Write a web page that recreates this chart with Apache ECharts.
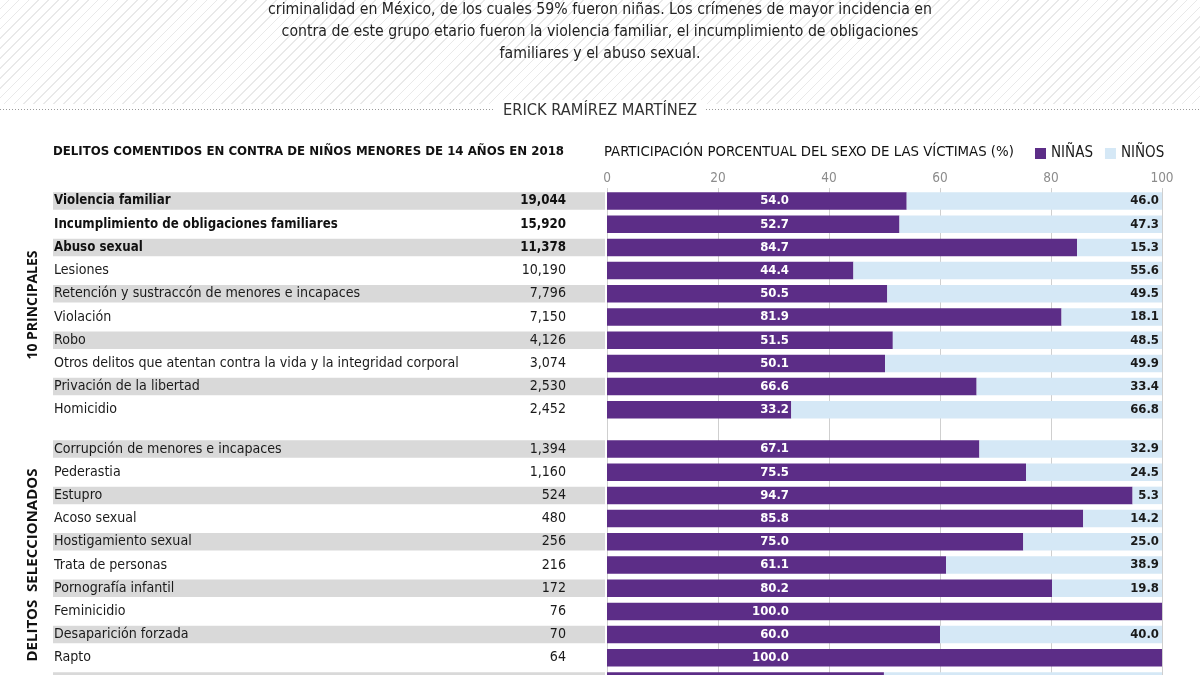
<!DOCTYPE html>
<html><head><meta charset="utf-8">
<script src="https://cdn.jsdelivr.net/npm/echarts@6/dist/echarts.min.js"></script>
<style>
html,body{margin:0;padding:0;background:#fff;}
#wrap{position:relative;width:1200px;height:675px;overflow:hidden;background:#fff;}
#hatch{position:absolute;left:0;top:0;width:1200px;height:104px;background:repeating-linear-gradient(135deg,#fff 0px,#fff 5.8px,#e9e9e9 5.8px,#e9e9e9 7px);}
#chart{position:absolute;left:0;top:0;width:1200px;height:700px;}
</style></head><body>
<div id="wrap"><div id="hatch"></div><div id="chart"></div></div>
<script>
const introLines = [
  'criminalidad en México, de los cuales 59% fueron niñas. Los crímenes de mayor incidencia en',
  'contra de este grupo etario fueron la violencia familiar, el incumplimiento de obligaciones',
  'familiares y el abuso sexual.'
];
const byline = 'ERICK RAMÍREZ MARTÍNEZ';
const leftTitle = 'DELITOS COMENTIDOS EN CONTRA DE NIÑOS MENORES DE 14 AÑOS EN 2018';
const rightTitle = 'PARTICIPACIÓN PORCENTUAL DEL SEXO DE LAS VÍCTIMAS (%)';
const seriesNames = ['NIÑAS', 'NIÑOS'];
const groupTitles = ['10 PRINCIPALES', 'DELITOS  SELECCIONADOS'];
const axisTicks = [0, 20, 40, 60, 80, 100];

const top10Names = ['Violencia familiar', 'Incumplimiento de obligaciones familiares', 'Abuso sexual', 'Lesiones',
  'Retención y sustraccón de menores e incapaces', 'Violación', 'Robo',
  'Otros delitos que atentan contra la vida y la integridad corporal', 'Privación de la libertad', 'Homicidio'];
const top10Counts = [19044, 15920, 11378, 10190, 7796, 7150, 4126, 3074, 2530, 2452];
const top10Ninas = [54.0, 52.7, 84.7, 44.4, 50.5, 81.9, 51.5, 50.1, 66.6, 33.2];
const top10Ninos = [46.0, 47.3, 15.3, 55.6, 49.5, 18.1, 48.5, 49.9, 33.4, 66.8];

const selNames = ['Corrupción de menores e incapaces', 'Pederastia', 'Estupro', 'Acoso sexual', 'Hostigamiento sexual',
  'Trata de personas', 'Pornografía infantil', 'Feminicidio', 'Desaparición forzada', 'Rapto', ''];
const selCounts = [1394, 1160, 524, 480, 256, 216, 172, 76, 70, 64, null];
const selNinas = [67.1, 75.5, 94.7, 85.8, 75.0, 61.1, 80.2, 100.0, 60.0, 100.0, 49.9];
const selNinos = [32.9, 24.5, 5.3, 14.2, 25.0, 38.9, 19.8, 0.0, 40.0, 0.0, 50.1];

const F = '"DejaVu Sans Condensed","Liberation Sans Narrow",sans-serif';
const PURPLE = '#5c2d87';
const BLUE = '#d5e8f6';
const STRIPE = '#d9d9d9';
const BW = 17.5;
const FS = 14.1;   // table text
const FSB = 13.2;  // bold table text

const chart = echarts.init(document.getElementById('chart'), null, {renderer: 'canvas'});

function fmtCount(c) { return c == null ? '' : c.toLocaleString('en-US'); }

function leftAxis(gi, names) {
  return {
    type: 'category', gridIndex: gi, data: names, inverse: true, z: 5,
    axisLine: {show: false}, axisTick: {show: false}, splitLine: {show: false},
    axisLabel: {
      inside: true, margin: 1, align: 'left', fontFamily: F, fontSize: FS, color: '#1a1a1a',
      formatter: (v, i) => (gi === 0 && i < 3) ? '{b|' + v + '}' : v,
      rich: {b: {fontFamily: F, fontSize: FSB, fontWeight: 'bold', color: '#111'}}
    }
  };
}

function stripeSeries(gi, counts, boldTop) {
  return {
    type: 'bar', name: 'stripe', xAxisIndex: gi, yAxisIndex: gi, silent: true, barWidth: BW,
    data: counts.map(() => 1),
    itemStyle: {color: p => p.dataIndex % 2 === 0 ? STRIPE : 'rgba(0,0,0,0)'},
    label: {
      show: true, position: 'insideRight', distance: 39, fontFamily: F, fontSize: FS, color: '#1a1a1a',
      formatter: p => {
        const s = fmtCount(counts[p.dataIndex]);
        if (!s) return '';
        return (boldTop && p.dataIndex < 3) ? '{b|' + s + '}' : s;
      },
      rich: {b: {fontFamily: F, fontSize: FSB, fontWeight: 'bold', color: '#111'}}
    }
  };
}

function pctSeries(gi, ninas, ninos) {
  return [{
    type: 'bar', name: seriesNames[0], stack: 's' + gi, xAxisIndex: gi, yAxisIndex: gi, barWidth: BW,
    data: ninas, itemStyle: {color: PURPLE},
    label: {
      show: true, position: [182, '50%'], align: 'right', verticalAlign: 'middle',
      color: '#fff', fontFamily: F, fontSize: 13, fontWeight: 'bold',
      formatter: p => p.value.toFixed(1)
    }
  }, {
    type: 'bar', name: seriesNames[1], stack: 's' + gi, xAxisIndex: gi, yAxisIndex: gi, barWidth: BW,
    data: ninos, itemStyle: {color: BLUE},
    label: {
      show: true, position: 'insideRight', distance: 3,
      color: '#1a1a1a', fontFamily: F, fontSize: 13, fontWeight: 'bold',
      formatter: p => p.value > 0 ? p.value.toFixed(1) : ''
    }
  }];
}

const hidX = (gi, max) => ({type: 'value', gridIndex: gi, min: 0, max: max, show: false});
const hidY = (gi, names) => ({type: 'category', gridIndex: gi, data: names, inverse: true, show: false});

const option = {
  backgroundColor: 'transparent',
  animation: false,
  legend: {
    data: seriesNames, left: 1030, top: 141, icon: 'rect', itemWidth: 11, itemHeight: 11, itemGap: 12,
    textStyle: {fontFamily: F, fontSize: 15, color: '#1a1a1a'}, selectedMode: false
  },
  grid: [
    {left: 53, top: 189.4, width: 552, height: 232},
    {left: 607, top: 189.4, width: 555, height: 232},
    {left: 53, top: 437.4, width: 552, height: 255.2},
    {left: 607, top: 437.4, width: 555, height: 255.2},
    {left: 607, top: 188, width: 555, height: 510}
  ],
  xAxis: [
    hidX(0, 1), hidX(1, 100), hidX(2, 1), hidX(3, 100),
    {
      type: 'value', gridIndex: 4, min: axisTicks[0], max: axisTicks[axisTicks.length - 1], interval: 20,
      position: 'top', axisLine: {show: false}, axisTick: {show: false},
      splitLine: {show: true, lineStyle: {color: '#cfcfcf', width: 1}},
      axisLabel: {margin: 3, fontFamily: F, fontSize: 13.5, color: '#8c8c8c'}
    }
  ],
  yAxis: [
    leftAxis(0, top10Names), hidY(1, top10Names), leftAxis(2, selNames), hidY(3, selNames),
    {type: 'value', gridIndex: 4, show: false}
  ],
  series: [
    stripeSeries(0, top10Counts, true),
    ...pctSeries(1, top10Ninas, top10Ninos),
    stripeSeries(2, selCounts, false),
    ...pctSeries(3, selNinas, selNinos)
  ],
  graphic: [
    ...introLines.map((t, i) => ({
      type: 'text', x: 600, y: 10 + i * 22, silent: true,
      style: {text: t, font: '15.7px ' + F, fill: '#222', textAlign: 'center', textVerticalAlign: 'middle', align: 'center', verticalAlign: 'middle'}
    })),
    {type: 'line', silent: true, shape: {x1: 0, y1: 109.5, x2: 494, y2: 109.5}, style: {stroke: '#9a9a9a', lineWidth: 1, lineDash: [1, 2]}},
    {type: 'line', silent: true, shape: {x1: 706, y1: 109.5, x2: 1200, y2: 109.5}, style: {stroke: '#9a9a9a', lineWidth: 1, lineDash: [1, 2]}},
    {type: 'rect', silent: true, shape: {x: 494, y: 100, width: 212, height: 22}, style: {fill: '#fff'}},
    {type: 'text', x: 600, y: 111, silent: true,
      style: {text: byline, font: '16.3px ' + F, fill: '#333', textAlign: 'center', textVerticalAlign: 'middle', align: 'center', verticalAlign: 'middle'}},
    {type: 'text', x: 53, y: 152, silent: true,
      style: {text: leftTitle, font: 'bold 13.1px ' + F, fill: '#111', textAlign: 'left', textVerticalAlign: 'middle', align: 'left', verticalAlign: 'middle'}},
    {type: 'text', x: 604, y: 152, silent: true,
      style: {text: rightTitle, font: '14.8px ' + F, fill: '#111', textAlign: 'left', textVerticalAlign: 'middle', align: 'left', verticalAlign: 'middle'}},
    {type: 'text', x: 33, y: 305, rotation: Math.PI / 2, silent: true,
      style: {text: groupTitles[0], font: 'bold 14px "Open Sans"', fill: '#111', textAlign: 'center', textVerticalAlign: 'middle', align: 'center', verticalAlign: 'middle'}},
    {type: 'text', x: 33, y: 565, rotation: Math.PI / 2, silent: true,
      style: {text: groupTitles[1], font: 'bold 15px "Open Sans"', fill: '#111', textAlign: 'center', textVerticalAlign: 'middle', align: 'center', verticalAlign: 'middle'}}
  ]
};
chart.setOption(option);
</script>
</body></html>
